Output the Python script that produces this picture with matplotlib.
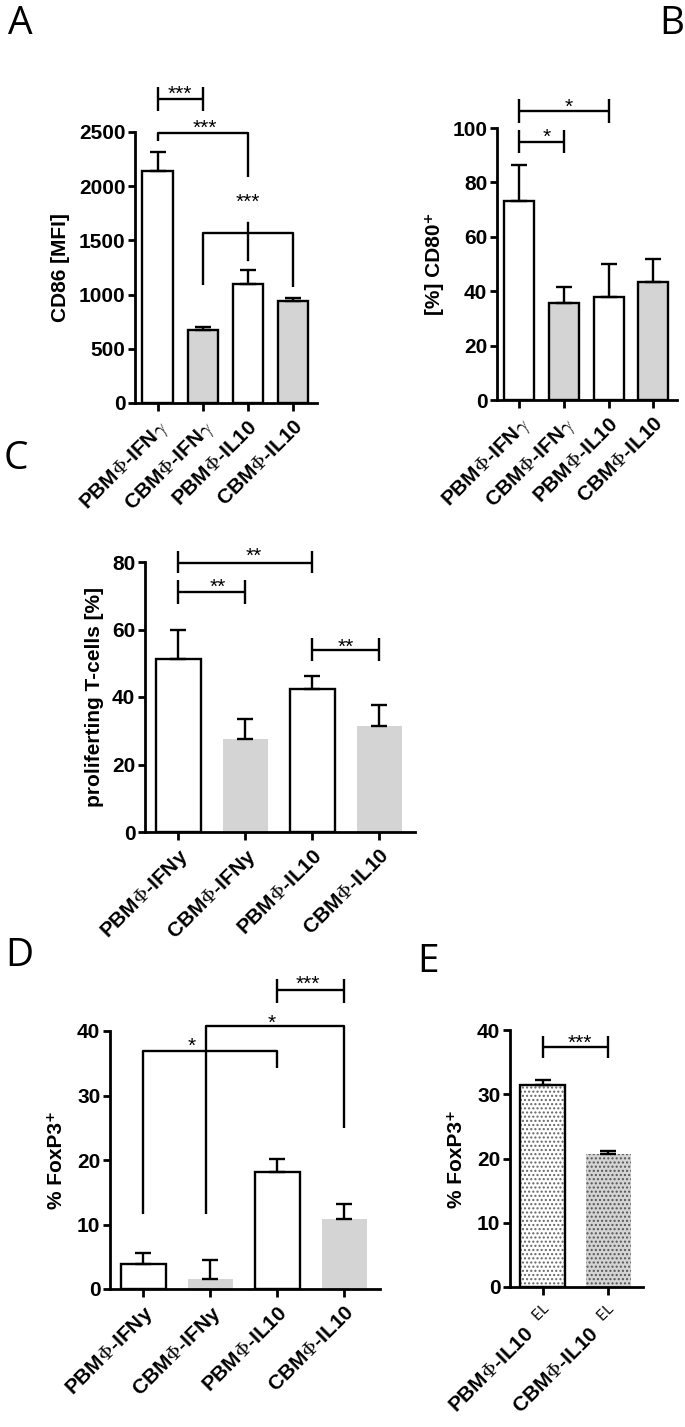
import matplotlib
matplotlib.use('Agg')
import matplotlib.pyplot as plt
import numpy as np

plt.rcParams['font.family'] = ['Liberation Sans', 'DejaVu Sans']
plt.rcParams['font.weight'] = 'bold'
plt.rcParams['mathtext.fontset'] = 'cm'
plt.rcParams['hatch.linewidth'] = 1.0

# ---------------- data ----------------
labels_AB = [r'PBM$\Phi$-IFN$\gamma$', r'CBM$\Phi$-IFN$\gamma$', r'PBM$\Phi$-IL10', r'CBM$\Phi$-IL10']
labels_CD = [r'PBM$\Phi$-IFNy', r'CBM$\Phi$-IFNy', r'PBM$\Phi$-IL10', r'CBM$\Phi$-IL10']
labels_E = [r'PBM$\Phi$-IL10  $^{\mathsf{EL}}$', r'CBM$\Phi$-IL10  $^{\mathsf{EL}}$']

cd86_mean = [2140, 670, 1095, 940]
cd86_err = [180, 28, 130, 25]
cd80_mean = [73.0, 35.6, 37.7, 43.5]
cd80_err = [13.5, 6.0, 12.3, 8.5]
prolif_mean = [51.4, 27.7, 42.5, 31.3]
prolif_err = [8.6, 5.9, 3.7, 6.4]
foxp3_mean = [3.8, 1.55, 18.2, 10.8]
foxp3_err = [1.8, 2.9, 2.0, 2.4]
foxp3el_mean = [31.5, 20.7]
foxp3el_err = [0.7, 0.4]

yticks_A = [0, 500, 1000, 1500, 2000, 2500]
yticks_B = [0, 20, 40, 60, 80, 100]
yticks_C = [0, 20, 40, 60, 80]
yticks_D = [0, 10, 20, 30, 40]
yticks_E = [0, 10, 20, 30, 40]

# significance annotations
# cap brackets: (x1, x2, y, leg_low, leg_high, text, text_x, text_y)
caps_A = [(0, 1, 2804, 2694, 2915, '***', 0.5, 2915)]
caps_B = [(0, 1, 95, 90.9, 99.4, '*', 0.61, 99.4),
          (0, 2, 106.4, 101.8, 110.7, '*', 1.11, 110.4)]
caps_C = [(0, 2, 79.8, 76.6, 83.3, '**', 1.12, 84.0),
          (0, 1, 71.1, 67.7, 74.6, '**', 0.58, 74.6),
          (2, 3, 54.0, 50.6, 57.5, '**', 2.5, 57.0)]
caps_D = [(2, 3, 46.3, 44.4, 48.0, '***', 2.45, 48.4)]
caps_E = [(0, 1, 37.3, 35.6, 39.1, '***', 0.57, 39.1)]
# drop brackets: (x1, x2, y, left_leg_bottom, right_leg_bottom, text, text_x, text_y)
drops_A = [(0, 2, 2491, 2420, 2085, '***', 1.04, 2601),
           (1, 3, 1568, 1089, 1070, None, None, None)]
stem_A = [(2, 1319, 1663, '***', 2, 1919)]
drops_D = [(0, 2, 36.9, 11.6, 34.3, '*', 0.72, 38.7),
           (0.94, 3, 40.8, 11.6, 24.9, '*', 1.92, 42.3)]

GREY = '#d4d4d4'
W, H = 685, 1427
fig = plt.figure(figsize=(W / 100, H / 100), dpi=100)

LW = 1.7
FS = 15
STAR_FS = 15


def px_axes(l, r, t, b):
    return fig.add_axes([l / W, 1 - b / H, (r - l) / W, (b - t) / H])


def style(ax, labels, yticks, n):
    for s in ['top', 'right']:
        ax.spines[s].set_visible(False)
    for s in ['left', 'bottom']:
        ax.spines[s].set_linewidth(2.0)
    ax.set_xlim(-0.5, n - 0.5 + 0.03)
    ax.set_ylim(yticks[0], yticks[-1])
    ax.set_yticks(yticks)
    ax.set_xticks(range(n))
    ax.set_xticklabels(labels, rotation=45, ha='right', rotation_mode='anchor', fontsize=FS, fontweight='bold')
    ax.tick_params(axis='y', length=5, width=2.0, pad=2, labelsize=FS)
    ax.tick_params(axis='x', length=6, width=2.0, pad=4)
    for t in ax.get_yticklabels():
        t.set_fontweight('bold')


def bars(ax, means, errs, faces, edges):
    x = np.arange(len(means))
    ax.bar(x, means, width=0.67, color=faces, edgecolor=edges, linewidth=LW, zorder=2)
    ax.errorbar(x, means, yerr=[np.zeros(len(errs)), errs], fmt='none', ecolor='black',
                elinewidth=LW, capsize=5.5, capthick=LW, zorder=3)


def star(ax, x, y, text):
    ax.annotate(text, xy=(x, y), xytext=(0, -0.62 * STAR_FS), textcoords='offset points',
                ha='center', va='baseline', fontsize=STAR_FS, fontweight='normal',
                annotation_clip=False)


def caps(ax, items):
    for x1, x2, y, lo, hi, text, tx, ty in items:
        kw = dict(color='black', lw=LW, clip_on=False, solid_capstyle='butt')
        ax.plot([x1, x2], [y, y], **kw)
        ax.plot([x1, x1], [lo, hi], **kw)
        ax.plot([x2, x2], [lo, hi], **kw)
        star(ax, tx, ty, text)


def drops(ax, items):
    for x1, x2, y, lb, rb, text, tx, ty in items:
        kw = dict(color='black', lw=LW, clip_on=False, solid_capstyle='butt')
        ax.plot([x1, x1, x2, x2], [lb, y, y, rb], **kw)
        if text:
            star(ax, tx, ty, text)


def panel_letter(x, y, s):
    fig.text(x / W, 1 - y / H, s, fontsize=28, fontweight='normal', family='Open Sans',
             ha='center', va='center')


# Panel A
axA = px_axes(135, 317, 132, 403)
bars(axA, cd86_mean, cd86_err, ['white', GREY, 'white', GREY], 'black')
style(axA, labels_AB, yticks_A, 4)
axA.set_ylabel('CD86 [MFI]', fontsize=FS, fontweight='bold', labelpad=6)
caps(axA, caps_A)
drops(axA, drops_A)
for x, y0, y1, text, tx, ty in stem_A:
    axA.plot([x, x], [y0, y1], color='black', lw=LW, clip_on=False)
    star(axA, tx, ty, text)

# Panel B
axB = px_axes(497, 677, 128, 400)
bars(axB, cd80_mean, cd80_err, ['white', GREY, 'white', GREY], 'black')
style(axB, labels_AB, yticks_B, 4)
axB.set_ylabel('[%] CD80\u207a', fontsize=FS, fontweight='bold', labelpad=6)
caps(axB, caps_B)

# Panel C
axC = px_axes(145, 415, 562, 832)
bars(axC, prolif_mean, prolif_err, ['white', GREY, 'white', GREY], ['black', 'none', 'black', 'none'])
style(axC, labels_CD, yticks_C, 4)
axC.set_ylabel('proliferting T-cells [%]', fontsize=FS, fontweight='bold', labelpad=6)
caps(axC, caps_C)

# Panel D
axD = px_axes(110, 380, 1031, 1289)
bars(axD, foxp3_mean, foxp3_err, ['white', GREY, 'white', GREY], ['black', 'none', 'black', 'none'])
style(axD, labels_CD, yticks_D, 4)
axD.set_ylabel('% FoxP3\u207a', fontsize=FS, fontweight='bold', labelpad=8)
drops(axD, drops_D)
caps(axD, caps_D)

# Panel E
axE = px_axes(510, 643, 1030, 1287)
xE = np.arange(2)
axE.bar(xE, foxp3el_mean, width=0.68, color=['white', GREY], edgecolor='none', linewidth=0, zorder=1)
axE.bar(xE, foxp3el_mean, width=0.68, color='none', edgecolor=['#666666', '#555555'], linewidth=0,
        hatch='....', zorder=2)
axE.bar(xE[:1], foxp3el_mean[:1], width=0.68, color='none', edgecolor='black', linewidth=LW, zorder=3)
axE.errorbar(xE, foxp3el_mean, yerr=[np.zeros(2), foxp3el_err], fmt='none', ecolor='black',
             elinewidth=LW, capsize=5.5, capthick=LW, zorder=4)
style(axE, labels_E, yticks_E, 2)
axE.set_ylabel('% FoxP3\u207a', fontsize=FS, fontweight='bold', labelpad=8)
caps(axE, caps_E)

panel_letter(20, 24, 'A')
panel_letter(672, 24, 'B')
panel_letter(16, 459, 'C')
panel_letter(19, 956, 'D')
panel_letter(428, 962, 'E')

fig.savefig('out.png', dpi=100)
